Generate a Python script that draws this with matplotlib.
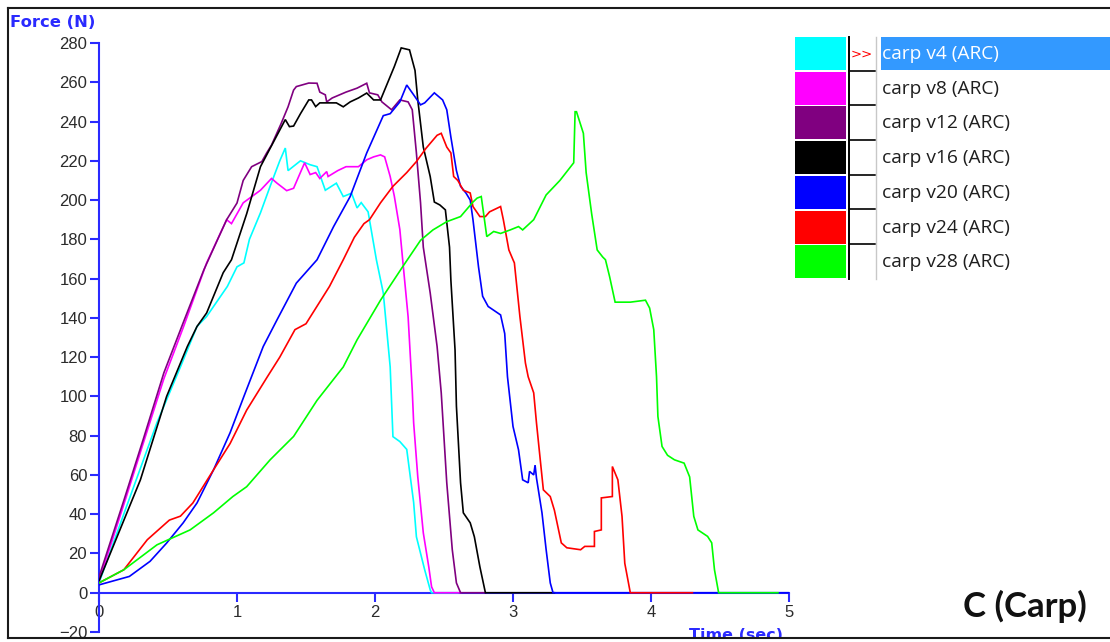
import matplotlib
matplotlib.use("Agg")
import matplotlib.pyplot as plt
from matplotlib.patches import Rectangle
from matplotlib.lines import Line2D

# ---------------- data ----------------
series_names = ["carp v4 (ARC)", "carp v8 (ARC)", "carp v12 (ARC)", "carp v16 (ARC)",
                "carp v20 (ARC)", "carp v24 (ARC)", "carp v28 (ARC)"]
series_colors = ["#00FFFF", "#FF00FF", "#800080", "#000000", "#0000FF", "#FF0000", "#00FF00"]

v4_t = [0, 0.2, 0.42, 0.59, 0.71, 0.78, 0.93, 1.0, 1.05, 1.09, 1.17, 1.24, 1.31, 1.35, 1.37,
        1.46, 1.53, 1.58, 1.64, 1.72, 1.77, 1.83, 1.87, 1.90, 1.95, 2.01, 2.06, 2.11, 2.13,
        2.18, 2.23, 2.28, 2.30, 2.36, 2.40, 2.41, 2.60]
v4_f = [5, 44, 86.6, 115, 135.6, 140.7, 156, 166, 168, 180, 193.5, 207, 220, 226.5, 215,
        220, 218, 217, 205, 208.6, 201.8, 203.5, 196, 198.7, 194, 169.6, 152.7, 115, 79.5,
        77, 73, 46, 28.5, 11.7, 1.5, 0, 0]

v8_t = [0, 0.18, 0.32, 0.47, 0.61, 0.78, 0.925, 0.96, 1.045, 1.17, 1.25, 1.29, 1.36, 1.41,
        1.49, 1.53, 1.57, 1.60, 1.65, 1.66, 1.73, 1.79, 1.88, 1.94, 1.99, 2.04, 2.07, 2.11,
        2.14, 2.18, 2.20, 2.24, 2.27, 2.28, 2.31, 2.35, 2.39, 2.41, 2.43, 2.62]
v8_f = [6, 45, 76, 109, 135, 168, 190, 188, 198.6, 205, 211, 208.6, 204.8, 206,
        219, 213, 214, 211, 214.5, 212, 215, 217, 217, 220.5, 222, 223, 222, 212,
        202, 185, 170, 140.5, 103, 86.6, 59, 30.5, 13, 3, 0, 0]

v12_t = [0, 0.18, 0.32, 0.47, 0.61, 0.76, 0.86, 0.925, 1.0, 1.045, 1.106, 1.18, 1.215, 1.25,
         1.32, 1.37, 1.41, 1.43, 1.52, 1.58, 1.60, 1.64, 1.65, 1.69, 1.79, 1.87, 1.94, 1.96,
         2.02, 2.05, 2.12, 2.18, 2.24, 2.27, 2.30, 2.33, 2.35, 2.40, 2.45, 2.48, 2.52, 2.56,
         2.59, 2.62, 2.80]
v12_f = [8, 47, 78, 112, 137.5, 164.5, 180, 190, 198.5, 210, 217, 219.6, 224, 228,
         239, 247.5, 256, 257.8, 259.6, 259.5, 255, 253.6, 250, 252, 255, 257, 259.5, 254.6,
         253.6, 250, 246, 251, 250, 246, 224, 198.6, 176, 152.7, 125.4, 101.8, 56, 21.9,
         5, 0, 0]

v16_t = [0, 0.30, 0.49, 0.64, 0.71, 0.78, 0.90, 0.96, 1.07, 1.17, 1.26, 1.35, 1.38, 1.41,
         1.46, 1.52, 1.54, 1.57, 1.60, 1.66, 1.72, 1.77, 1.82, 1.88, 1.94, 1.99, 2.04, 2.08,
         2.14, 2.19, 2.25, 2.29, 2.31, 2.35, 2.40, 2.43, 2.47, 2.51, 2.54, 2.55, 2.58, 2.59,
         2.62, 2.64, 2.69, 2.72, 2.76, 2.80, 3.30]
v16_f = [6, 57.5, 100, 125.4, 135.6, 142.5, 163, 169.6, 193, 217, 229, 241, 237.4, 237.7,
         244, 251, 251, 247.6, 249.5, 249.5, 249.5, 247.5, 250, 252, 254.5, 251, 251, 257.8,
         268, 277.5, 276.5, 266, 251, 227, 212, 199, 197.5, 195, 176, 159, 123.7, 95,
         56, 40.7, 35.6, 28.5, 13.2, 0, 0]

v20_t = [0, 0.22, 0.37, 0.49, 0.61, 0.71, 0.83, 0.95, 1.05, 1.19, 1.29, 1.43, 1.58, 1.70,
         1.82, 1.94, 2.06, 2.11, 2.18, 2.23, 2.28, 2.33, 2.36, 2.43, 2.49, 2.52, 2.55, 2.59,
         2.62, 2.66, 2.69, 2.71, 2.75, 2.78, 2.82, 2.91, 2.94, 2.96, 3.0, 3.04, 3.07, 3.11,
         3.12, 3.15, 3.16, 3.17, 3.21, 3.24, 3.27, 3.29, 5.0]
v20_f = [4, 8.3, 16, 25.3, 35.6, 45.7, 62.6, 81.5, 100, 125.4, 139, 157.7, 169.6, 186.5,
         201.8, 224, 243, 244, 250, 258.6, 253.6, 248.5, 249.5, 254.6, 251, 246, 232, 215,
         207, 203.5, 200, 190, 166, 151, 145.8, 141.5, 132, 110, 84.7, 72.8, 57.5, 56,
         61.8, 60, 65, 58.5, 40.7, 22, 5, 0, 0]

v24_t = [0, 0.18, 0.35, 0.51, 0.59, 0.68, 0.83, 0.95, 1.07, 1.22, 1.31, 1.42, 1.50, 1.67,
         1.77, 1.85, 1.92, 1.96, 2.04, 2.13, 2.23, 2.30, 2.37, 2.45, 2.48, 2.52, 2.55, 2.57,
         2.60, 2.64, 2.69, 2.71, 2.76, 2.80, 2.83, 2.91, 2.93, 2.97, 3.0, 3.01, 3.05, 3.09,
         3.11, 3.15, 3.17, 3.20, 3.22, 3.27, 3.30, 3.35, 3.39, 3.49, 3.52, 3.59, 3.59, 3.64,
         3.64, 3.72, 3.72, 3.76, 3.79, 3.81, 3.85, 4.30]
v24_f = [5, 11.7, 27, 37, 39, 45.7, 62.6, 76, 93, 110, 120, 134, 137, 156,
         169.6, 181, 188, 190, 198.6, 207, 214, 219.6, 226.4, 233, 234, 227, 224, 212,
         210, 205, 203.6, 196.7, 191.6, 191.6, 194, 196.7, 190, 174.6, 169.6, 168, 140.7, 117,
         110, 101.8, 86.6, 66, 52.4, 49, 42, 25.4, 22.9, 21.9, 23.6, 23.6, 31.2, 32,
         48.3, 49, 64.3, 57.5, 38.9, 15, 0, 0]

v28_t = [0, 0.18, 0.42, 0.66, 0.83, 0.97, 1.07, 1.24, 1.41, 1.58, 1.77, 1.87, 2.04, 2.20,
         2.33, 2.42, 2.52, 2.62, 2.71, 2.74, 2.77, 2.80, 2.81, 2.86, 2.91, 2.98, 3.04, 3.07,
         3.15, 3.24, 3.34, 3.39, 3.44, 3.45, 3.46, 3.51, 3.53, 3.57, 3.61, 3.65, 3.67, 3.70,
         3.74, 3.85, 3.96, 3.99, 4.02, 4.04, 4.05, 4.08, 4.12, 4.17, 4.24, 4.28, 4.31, 4.34,
         4.41, 4.44, 4.46, 4.49, 4.92]
v28_f = [5, 11.7, 24.4, 32, 40.7, 49, 54, 67.7, 79.6, 98, 115, 128.8, 149, 166,
         179.5, 184.8, 189, 191.6, 199, 201, 201.8, 186.5, 181.4, 184, 183, 184.8, 186.5, 184.8,
         190, 202.6, 210, 214.5, 219, 245, 245, 234, 214, 193, 174.6, 171, 169.6, 161,
         148, 148, 149, 145, 134, 110, 89.8, 74.5, 70, 67.7, 66, 59, 38.9, 32,
         28.7, 25.4, 11.7, 0, 0]

series_t = [v4_t, v8_t, v12_t, v16_t, v20_t, v24_t, v28_t]
series_f = [v4_f, v8_f, v12_f, v16_f, v20_f, v24_f, v28_f]

x_ticks = [0, 1, 2, 3, 4, 5]
y_ticks = list(range(-20, 281, 20))

# ---------------- figure ----------------
W, H = 1110, 642
fig = plt.figure(figsize=(W / 100, H / 100), dpi=100)
fig.patch.set_facecolor("white")


def fx(x):
    return x / W


def fy(y):
    return 1 - y / H


AX_BLUE = "#2a2aff"
TXT = "#2b2b2b"

ax = fig.add_axes([fx(99), fy(632), (789 - 99) / W, (632 - 43) / H])
ax.set_xlim(0, 5)
ax.set_ylim(-20, 280)
for t, f, c in zip(series_t, series_f, series_colors):
    ax.plot(t, f, color=c, lw=1.2, solid_joinstyle="miter", zorder=3)

for s in ["top", "right"]:
    ax.spines[s].set_visible(False)
ax.spines["bottom"].set_position(("data", 0))
for s in ["left", "bottom"]:
    ax.spines[s].set_color(AX_BLUE)
    ax.spines[s].set_linewidth(1.5)
    ax.spines[s].set_zorder(2)
ax.set_xticks(x_ticks)
ax.set_yticks(y_ticks)
ax.tick_params(axis="both", direction="out", length=6.5, width=1.5, color=AX_BLUE,
               labelcolor=TXT, labelsize=12, pad=2)
for lab in ax.get_xticklabels() + ax.get_yticklabels():
    lab.set_family(["Liberation Sans", "DejaVu Sans"])
ax.patch.set_alpha(0)

# axis titles
fig.text(fx(10), fy(27), "Force (N)", color=AX_BLUE, fontsize=11.8, fontweight="bold",
         family="DejaVu Sans", ha="left", va="baseline")
fig.text(fx(689), fy(640), "Time (sec)", color=AX_BLUE, fontsize=11.5, fontweight="bold",
         family="DejaVu Sans", ha="left", va="baseline", zorder=1)

# white cover below bottom border (clips the axis title like the reference)
fig.add_artist(Rectangle((0, 0), 1, fy(638.5), transform=fig.transFigure,
                         facecolor="white", edgecolor="none", zorder=5))

# outer frame
frame_kw = dict(transform=fig.transFigure, color="#1a1a1a", lw=1.5, zorder=6)
fig.add_artist(Line2D([fx(8), 1], [fy(8), fy(8)], **frame_kw))
fig.add_artist(Line2D([fx(8), 1], [fy(637.5), fy(637.5)], **frame_kw))
fig.add_artist(Line2D([fx(8), fx(8)], [fy(8), fy(637.5)], **frame_kw))

# panel label
fig.text(fx(963), fy(617), "C (Carp)", fontsize=25, fontweight="bold", family="Lato",
         color="#111111", ha="left", va="baseline")

# ---------------- legend panel ----------------
row_top = 37
row_h = 34.7
n = len(series_names)
for i, (name, c) in enumerate(zip(series_names, series_colors)):
    top = row_top + i * row_h
    fig.add_artist(Rectangle((fx(795), fy(top + 33)), (846 - 795) / W, 33 / H,
                             transform=fig.transFigure, facecolor=c, edgecolor="none"))
    if i > 0:
        fig.add_artist(Line2D([fx(849), fx(875)], [fy(top - 1), fy(top - 1)],
                              transform=fig.transFigure, color="black", lw=1.2))
    if i == 0:
        fig.add_artist(Rectangle((fx(881), fy(top + 33)), (W - 881) / W, 33 / H,
                                 transform=fig.transFigure, facecolor="#3399ff",
                                 edgecolor="none"))
        fig.text(fx(851), fy(top + 17), ">>", color="red", fontsize=9.5,
                 family="DejaVu Sans", ha="left", va="center")
        tcolor = "white"
    else:
        tcolor = "#1e1e1e"
    fig.text(fx(882), fy(top + 17), name, color=tcolor, fontsize=13.8,
             family="Open Sans", ha="left", va="center")

fig.add_artist(Line2D([fx(849), fx(849)], [fy(37), fy(279)],
                      transform=fig.transFigure, color="black", lw=1.4))
fig.add_artist(Line2D([fx(876), fx(876)], [fy(37), fy(279)],
                      transform=fig.transFigure, color="#c8c8c8", lw=1.0))

fig.savefig("out.png", dpi=100, facecolor="white")
